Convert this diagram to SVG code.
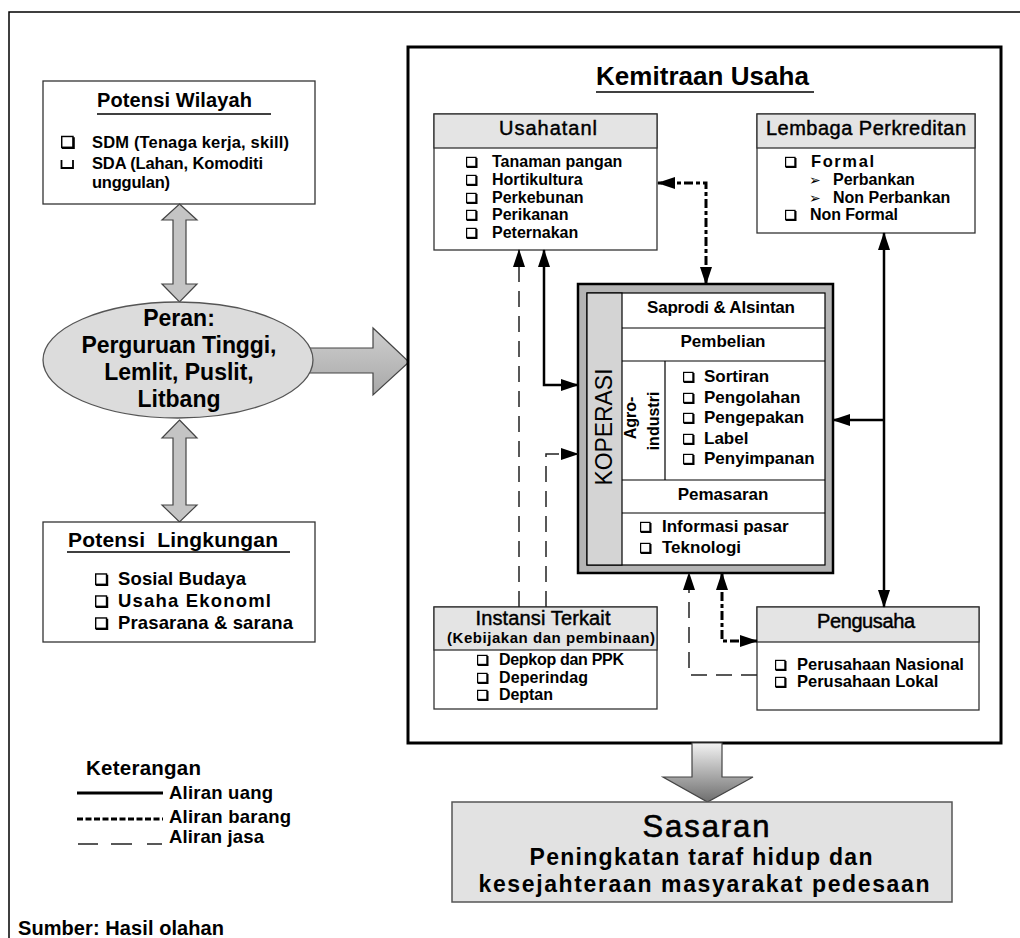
<svg xmlns="http://www.w3.org/2000/svg" xmlns:xlink="http://www.w3.org/1999/xlink" width="1020" height="938" viewBox="0 0 1020 938">
<style>
.t{font-family:"Liberation Sans",Arial,sans-serif;fill:#000}
.b{font-weight:bold}
.m{text-anchor:middle}
.s{stroke:#000;stroke-width:0.45}
.box{fill:#fff;stroke:#333;stroke-width:1.3}
.hdr{fill:#e4e4e4;stroke:#333;stroke-width:1.3}
.uang{fill:none;stroke:#000;stroke-width:2.5}
.barang{fill:none;stroke:#000;stroke-width:3;stroke-dasharray:9 3 4 3}
.jasa{fill:none;stroke:#222;stroke-width:1.5;stroke-dasharray:16 9}
.garrow{fill:#c4c4c4;stroke:#444;stroke-width:1.2}
.ln{stroke:#000;stroke-width:1.2;fill:none}
</style>
<defs>
<marker id="ah" viewBox="0 0 18 12" refX="17" refY="6" markerWidth="18" markerHeight="12" markerUnits="userSpaceOnUse" orient="auto-start-reverse">
<path d="M0,0 L18,6 L0,12 z" fill="#000"/>
</marker>
<g id="bl">
<rect x="0.6" y="-9.6" width="9.4" height="9" fill="#fff" stroke="#000" stroke-width="1.2"/>
<path d="M0.6,0 H10.6 V-9" stroke="#000" stroke-width="1.8" fill="none"/>
</g>
<linearGradient id="gdown" x1="0" y1="0" x2="0" y2="1">
<stop offset="0" stop-color="#f2f2f2"/>
<stop offset="1" stop-color="#6e6e6e"/>
</linearGradient>
<linearGradient id="gright" x1="0" y1="0" x2="0" y2="1">
<stop offset="0" stop-color="#cfcfcf"/>
<stop offset="1" stop-color="#a8a8a8"/>
</linearGradient>
</defs>
<rect width="1020" height="938" fill="#fff"/>
<path d="M9,938 V12 H1020" fill="none" stroke="#000" stroke-width="1.5"/>

<g id="potensi-wilayah">
<rect class="box" x="43" y="81" width="272" height="123"/>
<text class="t b" x="97" y="107" font-size="20" textLength="155">Potensi Wilayah</text>
<line x1="97" y1="114" x2="271" y2="114" stroke="#000" stroke-width="1.3"/>
<use xlink:href="#bl" transform="translate(61,148) scale(1.2)"/>
<path d="M61.5,160 V168 H73 V160" stroke="#000" stroke-width="1.8" fill="none"/>
<text class="t b" x="92" y="148" font-size="16.5" textLength="197">SDM (Tenaga kerja, skill)</text>
<text class="t b" x="92" y="169" font-size="16.5" textLength="171">SDA (Lahan, Komoditi</text>
<text class="t b" x="92" y="188" font-size="16.5" textLength="78">unggulan)</text>
</g>

<g id="arrow-up-peran">
<polygon class="garrow" points="179.5,204 197,220 186,220 186,284 197,284 179.5,302 162,284 173,284 173,220 162,220"/>
</g>
<g id="arrow-peran-kemitraan">
<polygon points="300,348 373,348 373,328 409,362 373,395 373,373 300,373" fill="url(#gright)" stroke="#444" stroke-width="1.2"/>
</g>

<g id="peran">
<ellipse cx="178" cy="360" rx="135" ry="58" fill="#dcdcdc" stroke="#555" stroke-width="1.3"/>
<text class="t b m" x="179" y="326" font-size="23">Peran:</text>
<text class="t b m" x="179" y="353" font-size="23" textLength="195">Perguruan Tinggi,</text>
<text class="t b m" x="179" y="380" font-size="23">Lemlit, Puslit,</text>
<text class="t b m" x="179" y="407" font-size="23">Litbang</text>
</g>

<g id="arrow-peran-lingkungan">
<polygon class="garrow" points="179.5,420 197,438 186,438 186,505 197,505 179.5,522 162,505 173,505 173,438 162,438"/>
</g>

<g id="potensi-lingkungan">
<rect class="box" x="43" y="522" width="272" height="120"/>
<text class="t b" x="68" y="547" font-size="21" textLength="210">Potensi&#160; Lingkungan</text>
<line x1="67" y1="552" x2="290" y2="552" stroke="#000" stroke-width="1.3"/>
<use xlink:href="#bl" transform="translate(95,585) scale(1.15)"/>
<use xlink:href="#bl" transform="translate(95,607) scale(1.15)"/>
<use xlink:href="#bl" transform="translate(95,629) scale(1.15)"/>
<text class="t b" x="118" y="585" font-size="18.5" textLength="128">Sosial Budaya</text>
<text class="t b" x="118" y="607" font-size="18.5" textLength="153">Usaha Ekonoml</text>
<text class="t b" x="118" y="629" font-size="18.5" textLength="175">Prasarana &amp; sarana</text>
</g>

<g id="legend">
<text class="t b" x="86" y="775" font-size="20.5" textLength="115">Keterangan</text>
<path d="M77,793 H163" stroke="#000" stroke-width="3"/>
<path d="M77,819 H163" stroke="#000" stroke-width="3" stroke-dasharray="6 2.5"/>
<path d="M78,844 H98 M111,844 H132 M147,844 H162" stroke="#222" stroke-width="1.3"/>
<text class="t b" x="169" y="799" font-size="18.5" textLength="104">Aliran uang</text>
<text class="t b" x="169" y="823" font-size="18.5" textLength="122">Aliran barang</text>
<text class="t b" x="169" y="843" font-size="18.5" textLength="95">Aliran jasa</text>
</g>
<g id="sumber">
<text class="t b" x="18" y="935" font-size="20" textLength="206">Sumber: Hasil olahan</text>
</g>

<g id="kemitraan">
<rect x="408" y="47" width="593" height="696" fill="#fff" stroke="#000" stroke-width="3"/>
<text class="t b" x="596" y="85" font-size="26" textLength="213">Kemitraan Usaha</text>
<line x1="596" y1="92" x2="814" y2="92" stroke="#000" stroke-width="1.5"/>
</g>

<g id="usahatani">
<rect class="box" x="434" y="114" width="223" height="136"/>
<rect class="hdr" x="434" y="114" width="223" height="34"/>
<text class="t s m" x="548" y="135" font-size="20" textLength="98">Usahatanl</text>
<use xlink:href="#bl" x="466" y="167"/>
<use xlink:href="#bl" x="466" y="185"/>
<use xlink:href="#bl" x="466" y="203"/>
<use xlink:href="#bl" x="466" y="220"/>
<use xlink:href="#bl" x="466" y="238"/>
<text class="t b" x="492" y="167" font-size="16">Tanaman pangan</text>
<text class="t b" x="492" y="185" font-size="16">Hortikultura</text>
<text class="t b" x="492" y="203" font-size="16">Perkebunan</text>
<text class="t b" x="492" y="220" font-size="16">Perikanan</text>
<text class="t b" x="492" y="238" font-size="16">Peternakan</text>
</g>

<g id="lembaga">
<rect class="box" x="757" y="114" width="218" height="119"/>
<rect class="hdr" x="757" y="114" width="218" height="34"/>
<text class="t s m" x="866" y="135" font-size="20" textLength="200">Lembaga Perkreditan</text>
<use xlink:href="#bl" x="785" y="167"/>
<use xlink:href="#bl" x="785" y="220"/>
<text class="t b" x="811" y="167" font-size="16.5" textLength="63">Formal</text>
<text x="809" y="185" font-size="14" font-family="DejaVu Sans, sans-serif" fill="#000">&#x27A2;</text>
<text x="809" y="203" font-size="14" font-family="DejaVu Sans, sans-serif" fill="#000">&#x27A2;</text>
<text class="t b" x="833" y="185" font-size="16">Perbankan</text>
<text class="t b" x="833" y="203" font-size="16">Non Perbankan</text>
<text class="t b" x="810" y="220" font-size="16" textLength="88">Non Formal</text>
</g>

<g id="koperasi">
<rect x="578" y="284" width="255" height="289" fill="#b4b4b4" stroke="#000" stroke-width="2.5"/>
<rect x="587" y="293" width="238" height="272" fill="#fff" stroke="#000" stroke-width="1.2"/>
<rect x="587" y="293" width="35" height="272" fill="#d4d4d4" stroke="#000" stroke-width="1.2"/>
<path class="ln" d="M622,328 H825 M622,361 H825 M622,480 H825 M622,513 H825 M665,361 V480"/>
<text class="t m" transform="translate(612,427) rotate(-90)" font-size="24" textLength="117" lengthAdjust="spacingAndGlyphs">KOPERASI</text>
<text class="t b m" transform="translate(636,418) rotate(-90)" font-size="16">Agro-</text>
<text class="t b m" transform="translate(659,421) rotate(-90)" font-size="16">industri</text>
<text class="t b m" x="721" y="313" font-size="17" textLength="148">Saprodi &amp; Alsintan</text>
<text class="t b m" x="723" y="347" font-size="17">Pembelian</text>
<use xlink:href="#bl" x="683" y="382"/>
<use xlink:href="#bl" x="683" y="403"/>
<use xlink:href="#bl" x="683" y="423"/>
<use xlink:href="#bl" x="683" y="444"/>
<use xlink:href="#bl" x="683" y="464"/>
<text class="t b" x="704" y="382" font-size="17">Sortiran</text>
<text class="t b" x="704" y="403" font-size="17">Pengolahan</text>
<text class="t b" x="704" y="423" font-size="17">Pengepakan</text>
<text class="t b" x="704" y="444" font-size="17">Label</text>
<text class="t b" x="704" y="464" font-size="17">Penyimpanan</text>
<text class="t b m" x="723" y="500" font-size="17">Pemasaran</text>
<use xlink:href="#bl" x="640" y="532"/>
<use xlink:href="#bl" x="640" y="553"/>
<text class="t b" x="662" y="532" font-size="17">Informasi pasar</text>
<text class="t b" x="662" y="553" font-size="17">Teknologi</text>
</g>

<g id="instansi">
<rect class="box" x="434" y="607" width="223" height="102"/>
<rect class="hdr" x="434" y="607" width="223" height="43"/>
<text class="t s m" x="543" y="625" font-size="20" textLength="135">Instansi Terkait</text>
<text class="t b m" x="551" y="643" font-size="15" textLength="208">(Kebijakan dan pembinaan)</text>
<use xlink:href="#bl" x="477" y="665"/>
<use xlink:href="#bl" x="477" y="683"/>
<use xlink:href="#bl" x="477" y="700"/>
<text class="t b" x="499" y="665" font-size="16" textLength="125">Depkop dan PPK</text>
<text class="t b" x="499" y="683" font-size="16" textLength="89">Deperindag</text>
<text class="t b" x="499" y="700" font-size="16" textLength="54">Deptan</text>
</g>

<g id="pengusaha">
<rect class="box" x="757" y="607" width="222" height="103"/>
<rect class="hdr" x="757" y="607" width="222" height="35"/>
<text class="t s m" x="866" y="628" font-size="20" textLength="98">Pengusaha</text>
<use xlink:href="#bl" x="775" y="670"/>
<use xlink:href="#bl" x="775" y="687"/>
<text class="t b" x="797" y="670" font-size="16.5">Perusahaan Nasional</text>
<text class="t b" x="797" y="687" font-size="16.5">Perusahaan Lokal</text>
</g>

<g id="connectors">
<path class="barang" d="M706,284 V183 H658" marker-start="url(#ah)" marker-end="url(#ah)"/>
<path class="uang" d="M578,385 H544 V250" marker-start="url(#ah)" marker-end="url(#ah)"/>
<path class="jasa" d="M519,607 V250" marker-end="url(#ah)"/>
<path class="jasa" d="M546,607 V454 H578" marker-end="url(#ah)"/>
<path class="uang" d="M884,233 V607" marker-start="url(#ah)" marker-end="url(#ah)"/>
<path class="uang" d="M884,420 H833" marker-end="url(#ah)"/>
<path class="jasa" d="M757,675 H689 V573" marker-end="url(#ah)"/>
<path class="barang" d="M722,573 V641 H757" marker-start="url(#ah)" marker-end="url(#ah)"/>
</g>

<g id="arrow-sasaran">
<polygon points="692,743 722,743 722,777 753,777 707.5,802 663,777 692,777" fill="url(#gdown)" stroke="#444" stroke-width="1.2"/>
</g>

<g id="sasaran">
<rect x="452" y="802" width="500" height="100" fill="#e2e2e2" stroke="#555" stroke-width="1.5"/>
<text class="t m" x="706" y="837" font-size="31" stroke="#000" stroke-width="0.6" textLength="127">Sasaran</text>
<text class="t b m" x="701" y="865" font-size="23" textLength="343">Peningkatan taraf hidup dan</text>
<text class="t b m" x="704" y="892" font-size="23" textLength="451">kesejahteraan masyarakat pedesaan</text>
</g>
</svg>
